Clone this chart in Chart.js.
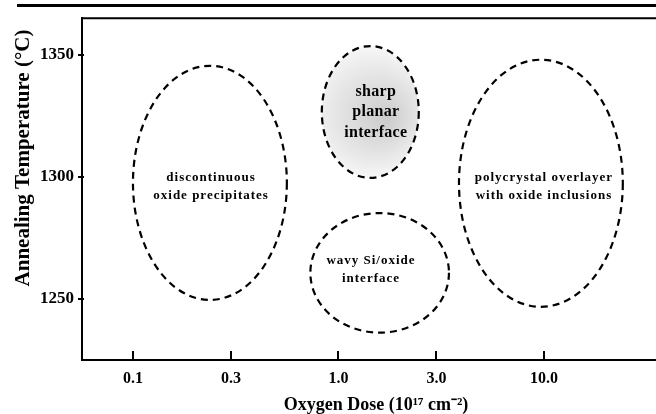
<!DOCTYPE html>
<html><head><meta charset="utf-8">
<script src="https://cdn.jsdelivr.net/npm/chart.js@4/dist/chart.umd.min.js"></script>
<style>html,body{margin:0;padding:0;background:#fff;}canvas{display:block;}</style>
</head><body>
<canvas id="c" width="656" height="414"></canvas>
<script>
// ---- data ----
const doseTicks = [0.1, 0.3, 1.0, 3.0, 10.0];
const doseTickLabels = ['0.1', '0.3', '1.0', '3.0', '10.0'];
const tempTicks = [1250, 1300, 1350];
const tempTickLabels = ['1250', '1300', '1350'];
const xTitle = 'Oxygen Dose (10\u00B9\u2077 cm\u207B\u00B2)';
const yTitle = 'Annealing Temperature (\u00B0C)';
const regionDoseMin = [0.100, 0.83, 0.73, 3.86];
const regionDoseMax = [0.561, 2.46, 3.45, 24.2];
const regionTempMin = [1249.6, 1299.6, 1236.2, 1246.8];
const regionTempMax = [1345.5, 1353.6, 1285.2, 1348.0];
const regionLabels = [
  ['discontinuous', 'oxide precipitates'],
  ['sharp', 'planar', 'interface'],
  ['wavy Si/oxide', 'interface'],
  ['polycrystal overlayer', 'with oxide inclusions']
];
const labelDose = [0.24, 1.52, 1.44, 10.0];
const labelTemp = [1296, 1326.5, 1262, 1296];
const regionHighlighted = [false, true, false, false];

const SERIF = "'Liberation Serif', 'Times New Roman', serif";

const decorPlugin = {
  id: 'decor',
  afterDatasetsDraw(chart) {
    const {ctx, chartArea: ca, scales: {x, y}} = chart;
    ctx.save();
    // regions
    for (let i = 0; i < regionDoseMin.length; i++) {
      const l = x.getPixelForValue(regionDoseMin[i]);
      const r = x.getPixelForValue(regionDoseMax[i]);
      const t = y.getPixelForValue(regionTempMax[i]);
      const b = y.getPixelForValue(regionTempMin[i]);
      const cx = (l + r) / 2, cy = (t + b) / 2, rx = (r - l) / 2, ry = (b - t) / 2;
      if (regionHighlighted[i]) {
        const g = ctx.createRadialGradient(cx + rx * 0.35, cy + ry * 0.1, 2, cx, cy, Math.max(rx, ry));
        g.addColorStop(0, 'rgba(0,0,0,0.20)');
        g.addColorStop(0.6, 'rgba(0,0,0,0.10)');
        g.addColorStop(1, 'rgba(0,0,0,0.03)');
        ctx.beginPath();
        ctx.ellipse(cx, cy, rx, ry, 0, 0, Math.PI * 2);
        ctx.fillStyle = g;
        ctx.fill();
      }
      ctx.beginPath();
      ctx.ellipse(cx, cy, rx, ry, 0, 0, Math.PI * 2);
      ctx.setLineDash([7, 5]);
      ctx.lineWidth = 2.2;
      ctx.strokeStyle = '#000';
      ctx.stroke();
    }
    ctx.setLineDash([]);
    // labels
    ctx.fillStyle = '#000';
    ctx.textAlign = 'center';
    ctx.textBaseline = 'middle';
    for (let i = 0; i < regionLabels.length; i++) {
      const px = x.getPixelForValue(labelDose[i]);
      const py = y.getPixelForValue(labelTemp[i]);
      const lines = regionLabels[i];
      let lh;
      if (regionHighlighted[i]) {
        ctx.font = 'bold 16px ' + SERIF;
        ctx.letterSpacing = '0.3px';
        lh = 20.5;
      } else {
        ctx.font = 'bold 13px ' + SERIF;
        ctx.letterSpacing = '1px';
        lh = 18;
      }
      lines.forEach((s, k) => {
        ctx.fillText(s, px, py + (k - (lines.length - 1) / 2) * lh);
      });
    }
    ctx.letterSpacing = '0px';
    ctx.restore();
  },
  afterDraw(chart) {
    const {ctx, chartArea: ca, scales: {x, y}} = chart;
    ctx.save();
    ctx.strokeStyle = '#000';
    // journal rule at top
    ctx.lineWidth = 3;
    ctx.beginPath(); ctx.moveTo(17, 5.5); ctx.lineTo(656, 5.5); ctx.stroke();
    // plot top border
    ctx.lineWidth = 2;
    ctx.beginPath(); ctx.moveTo(ca.left - 1, ca.top); ctx.lineTo(ca.right, ca.top); ctx.stroke();
    // x ticks (inward)
    ctx.lineWidth = 2;
    x.ticks.forEach(t => {
      const p = Math.round(x.getPixelForValue(t.value));
      ctx.beginPath(); ctx.moveTo(p, ca.bottom); ctx.lineTo(p, ca.bottom - 9); ctx.stroke();
    });
    // y ticks (crossing)
    y.ticks.forEach(t => {
      const p = Math.round(y.getPixelForValue(t.value));
      ctx.beginPath(); ctx.moveTo(ca.left - 4, p); ctx.lineTo(ca.left + 2, p); ctx.stroke();
    });
    // axis titles
    ctx.fillStyle = '#000';
    ctx.textAlign = 'center';
    ctx.textBaseline = 'alphabetic';
    ctx.font = 'bold 18px ' + SERIF;
    ctx.fillText(xTitle, 376, 410);
    ctx.translate(29, 158);
    ctx.rotate(-Math.PI / 2);
    ctx.font = 'bold 21px ' + SERIF;
    ctx.fillText(yTitle, 0, 0);
    ctx.restore();
  }
};

new Chart(document.getElementById('c'), {
  type: 'scatter',
  data: {
    datasets: [{
      data: labelDose.map((d, i) => ({x: d, y: labelTemp[i]})),
      pointRadius: 0,
      showLine: false
    }]
  },
  options: {
    responsive: false,
    animation: false,
    devicePixelRatio: 1,
    layout: {padding: {top: 15, right: 0, left: 0, bottom: 0}},
    plugins: {legend: {display: false}, tooltip: {enabled: false}},
    scales: {
      x: {
        type: 'logarithmic',
        min: 0.0565,
        max: 35.1,
        afterBuildTicks: s => { s.ticks = doseTicks.map(v => ({value: v})); },
        afterFit: s => { s.height = 54; },
        grid: {display: false, drawTicks: false},
        border: {display: true, color: '#000', width: 2},
        ticks: {
          autoSkip: false,
          maxRotation: 0,
          padding: 9,
          color: '#000',
          font: {family: SERIF, size: 16, weight: 'bold'},
          callback: (v) => { const i = doseTicks.indexOf(v); return i >= 0 ? doseTickLabels[i] : ''; }
        }
      },
      y: {
        type: 'linear',
        min: 1225,
        max: 1365,
        afterBuildTicks: s => { s.ticks = tempTicks.map(v => ({value: v})); },
        afterFit: s => { s.width = 82; },
        grid: {display: false, drawTicks: false},
        border: {display: true, color: '#000', width: 2},
        ticks: {
          autoSkip: false,
          padding: 8,
          color: '#000',
          font: {family: SERIF, size: 17, weight: 'bold'},
          callback: (v) => { const i = tempTicks.indexOf(v); return i >= 0 ? tempTickLabels[i] : ''; }
        }
      }
    }
  },
  plugins: [decorPlugin]
});
</script>
</body></html>
